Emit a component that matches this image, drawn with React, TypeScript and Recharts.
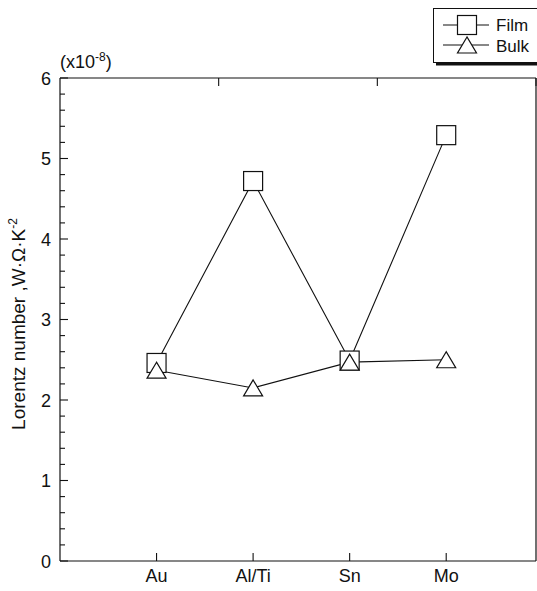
import React from 'react';
import { LineChart, Line, XAxis, YAxis } from 'recharts';

// metals on the x axis, placed at positions 1..4 of a numeric axis
const metals = ['Au', 'Al/Ti', 'Sn', 'Mo'];
const metalPos = [1, 2, 3, 4];
// Lorentz number (x10^-8 W·Ω·K^-2)
const film = [2.46, 4.72, 2.49, 5.29];
const bulk = [2.37, 2.15, 2.47, 2.5];
const yMajor = [0, 1, 2, 3, 4, 5, 6];
const yTicks = yMajor.flatMap((v) => (v < 6 ? [v, v + 0.2, v + 0.4, v + 0.6, v + 0.8] : [v]));

const data = metals.map((m, i) => ({ name: m, x: metalPos[i], film: film[i], bulk: bulk[i] }));

const INK = '#111';
const FONT = '"Liberation Sans", Arial, Helvetica, sans-serif';

const isMajor = (v: number) => Math.abs(v - Math.round(v)) < 1e-6;

const LeftTick = ({ x, y, payload }: any) => {
  const v = payload.value;
  const major = isMajor(v);
  return (
    <g>
      <line x1={x} x2={x + (major ? 8 : 5)} y1={y} y2={y} stroke={INK} strokeWidth={1.1} />
      {major && (
        <text x={x - 9} y={y} dy={6.5} textAnchor="end" fontSize={18} fill={INK} fontFamily={FONT}>
          {Math.round(v)}
        </text>
      )}
    </g>
  );
};

const RightTick = ({ x, y, payload }: any) => {
  const major = isMajor(payload.value);
  return <line x1={x} x2={x - (major ? 8 : 5)} y1={y} y2={y} stroke={INK} strokeWidth={1.1} />;
};

const BottomTick = ({ x, y, payload }: any) => (
  <g>
    <line x1={x} x2={x} y1={y} y2={y - 8} stroke={INK} strokeWidth={1.1} />
    <text x={x} y={y + 21} textAnchor="middle" fontSize={18} fill={INK} fontFamily={FONT}>
      {metals[metalPos.indexOf(payload.value)]}
    </text>
  </g>
);

const TopTick = ({ x, y }: any) => <line x1={x} x2={x} y1={y} y2={y + 8} stroke={INK} strokeWidth={1.1} />;

const Square = ({ cx, cy }: any) => (
  <rect x={cx - 9.5} y={cy - 9.5} width={19} height={19} fill="#fff" stroke={INK} strokeWidth={1.2} />
);

const Triangle = ({ cx, cy }: any) => (
  <polygon
    points={`${cx},${cy - 8} ${cx - 9.5},${cy + 8} ${cx + 9.5},${cy + 8}`}
    fill="#fff"
    stroke={INK}
    strokeWidth={1.2}
  />
);

const LegendBox = () => (
  <svg width={120} height={62} style={{ display: 'block' }}>
    <rect x={3} y={3.5} width={110} height={54} fill={INK} />
    <rect x={0.5} y={0.5} width={110} height={54} fill="#fff" stroke={INK} strokeWidth={1} />
    <line x1={10} x2={56} y1={17} y2={17} stroke={INK} strokeWidth={1.1} />
    <Square cx={34} cy={17} />
    <text x={63} y={23} fontSize={17} fill={INK} fontFamily={FONT}>Film</text>
    <line x1={10} x2={56} y1={37} y2={37} stroke={INK} strokeWidth={1.1} />
    <Triangle cx={34} cy={37} />
    <text x={63} y={43.5} fontSize={17} fill={INK} fontFamily={FONT}>Bulk</text>
  </svg>
);

const AxisTitles = () => (
  <g fontFamily={FONT} fill={INK}>
    <text x={60} y={68} fontSize={18}>
      (x10<tspan dy={-7} fontSize={12}>-8</tspan>
      <tspan dy={7}>)</tspan>
    </text>
    <text transform="rotate(-90)" x={-324} y={25} textAnchor="middle" fontSize={19}>
      Lorentz number ,W·Ω·K<tspan dy={-8} fontSize={12}>-2</tspan>
    </text>
  </g>
);

export default function App() {
  const xDomain = [0, 4.93];
  return (
    <div style={{ position: 'fixed', left: 0, top: 0, width: 537, height: 591, overflow: 'hidden', background: '#fff' }}>
      <LineChart width={537} height={591} data={data} margin={{ top: 0, right: 0, bottom: 0, left: 0 }}>
        <XAxis
          dataKey="x"
          type="number"
          domain={xDomain}
          ticks={metalPos}
          interval={0}
          height={30}
          tickSize={0}
          tickMargin={0}
          tickLine={false}
          tick={BottomTick}
          axisLine={{ stroke: INK, strokeWidth: 1.2 }}
        />
        <XAxis
          xAxisId="top"
          orientation="top"
          type="number"
          domain={xDomain}
          ticks={metalPos}
          interval={0}
          height={78}
          tickSize={0}
          tickMargin={0}
          tickLine={false}
          tick={TopTick}
          axisLine={{ stroke: INK, strokeWidth: 1.2 }}
        />
        <YAxis
          type="number"
          domain={[0, 6]}
          ticks={yTicks}
          interval={0}
          width={60}
          tickSize={0}
          tickMargin={0}
          tickLine={false}
          tick={LeftTick}
          axisLine={{ stroke: INK, strokeWidth: 1.2 }}
          label={{ content: () => <AxisTitles /> }}
        />
        <YAxis
          yAxisId="right"
          orientation="right"
          type="number"
          domain={[0, 6]}
          ticks={yTicks}
          interval={0}
          width={1}
          tickSize={0}
          tickMargin={0}
          tickLine={false}
          tick={RightTick}
          axisLine={{ stroke: INK, strokeWidth: 1.2 }}
        />
        {/* connecting lines first, markers after, so the bulk triangle sits on top of the film square */}
        <Line dataKey="film" stroke={INK} strokeWidth={1.1} dot={false} activeDot={false} isAnimationActive={false} />
        <Line dataKey="bulk" stroke={INK} strokeWidth={1.1} dot={false} activeDot={false} isAnimationActive={false} />
        <Line dataKey="film" stroke="none" dot={Square} activeDot={false} isAnimationActive={false} />
        <Line dataKey="bulk" stroke="none" dot={Triangle} activeDot={false} isAnimationActive={false} />
      </LineChart>
      <div style={{ position: 'absolute', left: 433, top: 8 }}>
        <LegendBox />
      </div>
    </div>
  );
}
